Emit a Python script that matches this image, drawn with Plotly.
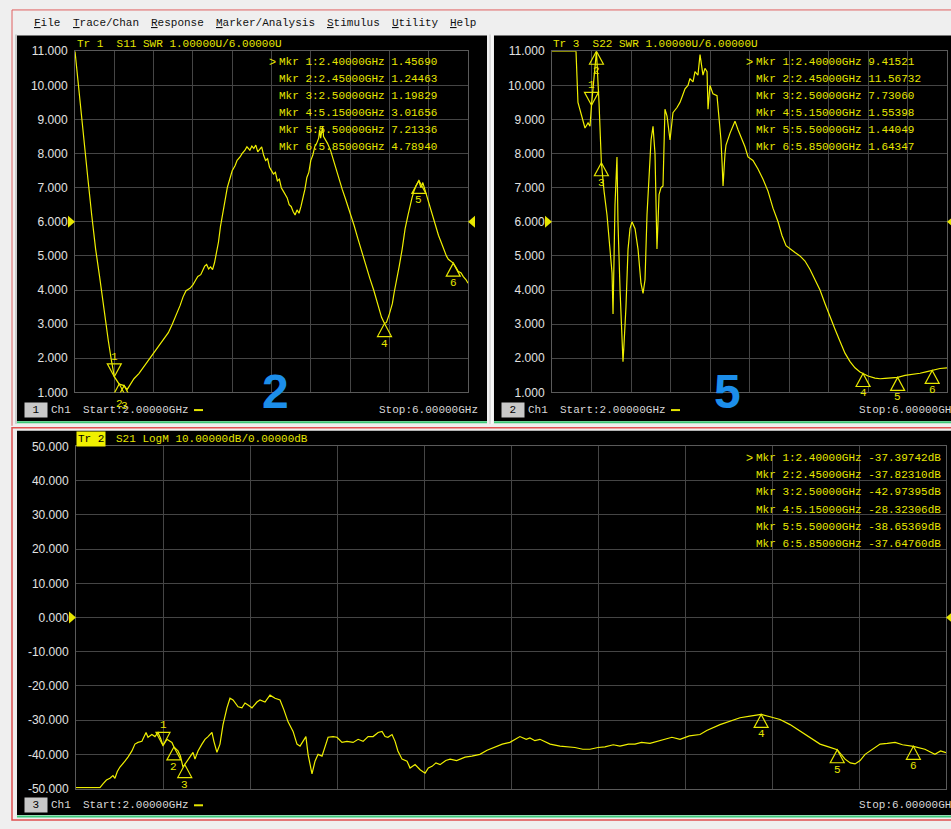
import plotly.graph_objects as go

W, H = 951, 829
MONO = "Liberation Mono, DejaVu Sans Mono, monospace"
SANS = "Liberation Sans, Arial, sans-serif"
YEL = "#E6E600"
TRACE_YEL = "#F0F000"
LABEL = "#E2E2E2"
GRID = "#454545"

# ---------------- data ----------------
s11_freq = [2.00, 2.02, 2.05, 2.09, 2.13, 2.17, 2.21, 2.25, 2.30, 2.34, 2.37, 2.40, 2.45, 2.50, 2.53, 2.56,
            2.60, 2.65, 2.70, 2.75, 2.80, 2.85, 2.90, 2.95, 2.99, 3.03, 3.07, 3.10, 3.13, 3.17, 3.20, 3.23,
            3.25, 3.28, 3.30, 3.32, 3.34, 3.36, 3.38, 3.40, 3.42, 3.44, 3.46, 3.48, 3.50, 3.53, 3.55, 3.58,
            3.60, 3.63, 3.65, 3.68, 3.70, 3.73, 3.75, 3.78, 3.80, 3.82, 3.84, 3.86, 3.88, 3.90, 3.92, 3.94,
            3.96, 3.98, 4.00, 4.02, 4.04, 4.06, 4.08, 4.10, 4.12, 4.14, 4.16, 4.18, 4.20, 4.22, 4.24, 4.26,
            4.28, 4.30, 4.32, 4.34, 4.36, 4.38, 4.40, 4.42, 4.44, 4.46, 4.48, 4.49, 4.50, 4.51, 4.52, 4.53,
            4.55, 4.57, 4.60, 4.62, 4.64, 4.66, 4.68, 4.70, 4.72, 4.75, 4.78, 4.80, 4.84, 4.88, 4.92, 4.96,
            5.00, 5.04, 5.08, 5.10, 5.12, 5.15, 5.17, 5.20, 5.23, 5.25, 5.27, 5.30, 5.33, 5.36, 5.39, 5.41,
            5.43, 5.45, 5.47, 5.50, 5.52, 5.54, 5.56, 5.58, 5.60, 5.62, 5.64, 5.66, 5.68, 5.70, 5.72, 5.75,
            5.78, 5.80, 5.82, 5.85, 5.88, 5.90, 5.93, 5.95, 5.98, 6.00]
s11_swr = [11.0, 10.4, 9.5, 8.4, 7.3, 6.2, 5.2, 4.4, 3.3, 2.5, 1.95, 1.46, 1.24, 1.20, 1.08, 1.22,
           1.40, 1.55, 1.75, 1.92, 2.15, 2.32, 2.55, 2.75, 3.00, 3.25, 3.55, 3.80, 3.98, 4.05, 4.15, 4.30,
           4.40, 4.45, 4.60, 4.70, 4.75, 4.62, 4.68, 4.60, 4.80, 5.10, 5.40, 5.85, 6.20, 6.70, 7.00, 7.30,
           7.50, 7.65, 7.80, 7.90, 8.00, 8.10, 8.20, 8.10, 8.22, 8.15, 8.25, 8.05, 8.12, 8.20, 7.95, 7.80,
           7.85, 7.60, 7.50, 7.40, 7.45, 7.20, 7.25, 7.00, 6.90, 6.80, 6.70, 6.50, 6.45, 6.30, 6.20, 6.35,
           6.25, 6.45, 6.70, 6.95, 7.30, 7.45, 7.80, 7.95, 8.20, 8.30, 8.45, 8.70, 8.45, 8.60, 8.80, 8.50,
           8.40, 8.30, 8.10, 7.90, 7.70, 7.55, 7.30, 7.10, 6.95, 6.70, 6.45, 6.30, 5.90, 5.50, 5.10, 4.70,
           4.35, 4.00, 3.60, 3.40, 3.20, 3.02, 3.05, 3.30, 3.60, 3.95, 4.30, 4.70, 5.20, 5.80, 6.20, 6.50,
           6.70, 6.90, 7.05, 7.21, 7.00, 7.15, 6.95, 6.80, 6.60, 6.40, 6.20, 6.00, 5.80, 5.60, 5.45, 5.20,
           5.00, 4.90, 4.85, 4.79, 4.65, 4.55, 4.50, 4.40, 4.30, 4.20]

s22_freq = [2.000, 2.243, 2.263, 2.304, 2.334, 2.365, 2.385, 2.400, 2.450, 2.476, 2.500, 2.527, 2.557,
            2.587, 2.608, 2.618, 2.628, 2.638, 2.658, 2.668, 2.689, 2.709, 2.719, 2.729, 2.749, 2.770,
            2.790, 2.810, 2.841, 2.871, 2.901, 2.922, 2.942, 2.962, 2.982, 3.003, 3.023, 3.043, 3.063,
            3.084, 3.104, 3.124, 3.144, 3.165, 3.195, 3.225, 3.266, 3.296, 3.316, 3.347, 3.377, 3.397,
            3.428, 3.448, 3.478, 3.499, 3.519, 3.529, 3.549, 3.570, 3.580, 3.600, 3.630, 3.671, 3.691,
            3.711, 3.722, 3.732, 3.752, 3.762, 3.803, 3.833, 3.853, 3.884, 3.924, 3.954, 3.985, 4.035,
            4.086, 4.137, 4.187, 4.238, 4.289, 4.329, 4.370, 4.410, 4.461, 4.511, 4.562, 4.613, 4.663,
            4.714, 4.765, 4.815, 4.866, 4.916, 4.967, 5.018, 5.068, 5.119, 5.150, 5.200, 5.271, 5.322,
            5.372, 5.423, 5.500, 5.575, 5.646, 5.727, 5.787, 5.850, 5.929, 6.000]
s22_swr = [11.0, 11.0, 9.50, 9.07, 8.75, 8.90, 8.80, 9.42, 11.0, 9.50, 7.73, 6.90, 6.20,
           5.20, 4.50, 3.30, 4.50, 6.50, 7.90, 6.00, 4.00, 2.50, 1.90, 2.40, 3.50, 5.20,
           5.80, 6.00, 5.80, 5.20, 4.20, 3.90, 4.30, 6.20, 7.50, 8.40, 8.80, 8.00, 5.20,
           6.80, 7.00, 7.05, 9.30, 9.10, 8.40, 9.20, 9.35, 9.50, 9.65, 9.90, 10.0, 10.2,
           10.1, 10.4, 10.3, 10.9, 10.5, 10.3, 10.5, 10.4, 9.30, 10.0, 9.75, 9.70, 9.05,
           8.40, 7.75, 7.05, 8.00, 8.25, 8.60, 8.80, 8.95, 8.70, 8.40, 8.20, 7.90, 7.80,
           7.55, 7.25, 6.90, 6.40, 6.00, 5.60, 5.30, 5.20, 5.10, 5.00, 4.85, 4.60, 4.30,
           4.00, 3.60, 3.20, 2.85, 2.50, 2.15, 1.90, 1.72, 1.60, 1.55, 1.48, 1.42, 1.40,
           1.41, 1.42, 1.44, 1.50, 1.52, 1.56, 1.60, 1.64, 1.70, 1.72]

s21_freq = [2.000, 2.110, 2.124, 2.140, 2.156, 2.170, 2.179, 2.190, 2.202, 2.215, 2.225, 2.239, 2.257,
            2.271, 2.285, 2.303, 2.322, 2.331, 2.349, 2.363, 2.377, 2.390, 2.400, 2.418, 2.441, 2.450,
            2.469, 2.480, 2.492, 2.500, 2.510, 2.524, 2.538, 2.547, 2.561, 2.579, 2.593, 2.607, 2.625,
            2.634, 2.648, 2.662, 2.676, 2.694, 2.708, 2.722, 2.745, 2.763, 2.777, 2.791, 2.809, 2.832,
            2.846, 2.869, 2.892, 2.915, 2.938, 2.956, 2.975, 2.998, 3.016, 3.030, 3.044, 3.057, 3.067,
            3.085, 3.099, 3.113, 3.131, 3.145, 3.159, 3.182, 3.200, 3.223, 3.246, 3.274, 3.297, 3.320,
            3.343, 3.366, 3.389, 3.407, 3.421, 3.434, 3.453, 3.467, 3.480, 3.499, 3.522, 3.536, 3.559,
            3.582, 3.605, 3.620, 3.637, 3.655, 3.674, 3.700, 3.720, 3.750, 3.789, 3.820, 3.857, 3.890,
            3.926, 3.960, 3.995, 4.020, 4.041, 4.070, 4.087, 4.110, 4.133, 4.180, 4.225, 4.294, 4.330,
            4.363, 4.400, 4.432, 4.470, 4.501, 4.540, 4.570, 4.600, 4.639, 4.680, 4.708, 4.740, 4.777,
            4.820, 4.869, 4.900, 4.961, 5.000, 5.053, 5.099, 5.150, 5.191, 5.237, 5.283, 5.320, 5.352,
            5.390, 5.421, 5.460, 5.500, 5.536, 5.560, 5.582, 5.605, 5.628, 5.660, 5.697, 5.730, 5.766,
            5.800, 5.850, 5.903, 5.930, 5.949, 5.975, 6.000]
s21_db = [-49.7, -49.7, -48.6, -47.5, -47.0, -46.2, -47.0, -45.0, -43.7, -42.8, -42.0, -40.8, -39.0,
          -37.0, -36.5, -36.2, -33.6, -35.0, -34.2, -34.8, -33.6, -35.5, -37.4, -35.6, -36.5, -37.8,
          -39.0, -40.5, -43.7, -42.97, -42.0, -40.8, -39.4, -41.4, -39.0, -37.0, -35.6, -34.8, -33.6,
          -36.2, -39.4, -37.0, -31.3, -26.4, -23.6, -24.1, -26.1, -26.4, -25.0, -25.6, -26.4, -24.7,
          -24.1, -24.7, -22.7, -23.6, -24.1, -27.0, -30.5, -33.3, -37.0, -37.6, -36.2, -34.8, -40.0,
          -45.7, -42.0, -40.0, -40.5, -38.0, -35.0, -34.8, -35.0, -36.5, -36.2, -36.5, -35.6, -36.2,
          -34.8, -34.8, -33.6, -33.3, -34.8, -35.0, -34.2, -36.2, -39.0, -41.4, -42.0, -44.0, -43.0,
          -44.5, -45.5, -44.0, -43.5, -42.5, -43.0, -41.8, -41.4, -41.8, -40.8, -40.5, -40.0, -38.8,
          -37.8, -37.0, -36.5, -35.5, -34.8, -35.6, -35.2, -36.0, -35.6, -37.0, -37.6, -38.0, -38.5,
          -38.5, -38.0, -37.8, -37.2, -37.6, -37.0, -37.0, -36.5, -36.8, -36.0, -35.6, -35.0, -35.6,
          -34.6, -34.2, -33.0, -31.3, -30.5, -29.3, -28.8, -28.3, -29.0, -29.8, -31.3, -32.8, -34.2,
          -35.6, -37.0, -37.8, -38.65, -41.4, -42.5, -42.8, -41.8, -40.0, -38.5, -37.0, -36.8, -36.5,
          -37.2, -37.65, -38.5, -39.5, -40.0, -39.0, -39.5]

mkr_freq = [2.40, 2.45, 2.50, 5.15, 5.50, 5.85]
s11_mkr = [1.45690, 1.24463, 1.19829, 3.01656, 7.21336, 4.78940]
s22_mkr = [9.41521, 11.56732, 7.73060, 1.55398, 1.44049, 1.64347]
s21_mkr = [-37.39742, -37.82310, -42.97395, -28.32306, -38.65369, -37.64760]

swr_ticks = [11, 10, 9, 8, 7, 6, 5, 4, 3, 2, 1]
db_ticks = [50, 40, 30, 20, 10, 0, -10, -20, -30, -40, -50]
freq_grid = [2.0, 2.4, 2.8, 3.2, 3.6, 4.0, 4.4, 4.8, 5.2, 5.6, 6.0]

menu_items = ["File", "Trace/Chan", "Response", "Marker/Analysis", "Stimulus", "Utility", "Help"]


# ---------------- helpers ----------------
def px(x):
    return x / W


def py(y):
    return 1 - y / H


fig = go.Figure()

panels = [
    dict(ax="x", ay="y", f=s11_freq, v=s11_swr, mk=s11_mkr, ymax=11, ref=6),
    dict(ax="x2", ay="y2", f=s22_freq, v=s22_swr, mk=s22_mkr, ymax=11, ref=6),
    dict(ax="x3", ay="y3", f=s21_freq, v=s21_db, mk=s21_mkr, ymax=50, ref=0),
]

for p in panels:
    fig.add_trace(go.Scatter(x=p["f"], y=p["v"], xaxis=p["ax"], yaxis=p["ay"], mode="lines",
                             line=dict(color=TRACE_YEL, width=1.2), hoverinfo="skip", showlegend=False))

shapes = []
annotations = []


def rect(x0, y0, x1, y1, fill=None, line=None, lw=1):
    shapes.append(dict(type="rect", xref="paper", yref="paper", x0=px(x0), x1=px(x1), y0=py(y1), y1=py(y0),
                       fillcolor=fill if fill else "rgba(0,0,0,0)",
                       line=dict(color=line if line else "rgba(0,0,0,0)", width=lw if line else 0),
                       layer="below"))


def hline(x0, x1, y, color, lw=1):
    shapes.append(dict(type="line", xref="paper", yref="paper", x0=px(x0), x1=px(x1), y0=py(y), y1=py(y),
                       line=dict(color=color, width=lw), layer="below"))


def vline(x, y0, y1, color, lw=1):
    shapes.append(dict(type="line", xref="paper", yref="paper", x0=px(x), x1=px(x), y0=py(y0), y1=py(y1),
                       line=dict(color=color, width=lw), layer="below"))


def text(x, y, s, color=YEL, size=11, family=MONO, xanchor="left", bg=None):
    d = dict(x=px(x), y=py(y), xref="paper", yref="paper", text=s, showarrow=False,
             xanchor=xanchor, yanchor="middle", font=dict(color=color, size=size, family=family),
             borderpad=0)
    if bg:
        d["bgcolor"] = bg
        d["borderpad"] = 1
    annotations.append(d)


# window chrome
hline(12, 951, 3, "#E06060", 1)
vline(12, 3, 426, "#E06060", 1)
vline(16, 28, 424, "#A8A8A8", 1)
rect(17, 29, 487, 421, fill="black")
rect(494, 29, 951, 421, fill="black")
hline(17, 487, 422.5, "#3CC878", 2)
hline(494, 951, 422.5, "#3CC878", 2)
vline(490, 28, 424, "#C8C8C8", 1)
vline(492, 28, 424, "#FFFFFF", 1)
rect(12, 428, 955, 827, line="#E05050", lw=1.5)
rect(17, 431, 951, 822, fill="black")
hline(17, 951, 823.5, "#3CC878", 2)

# menu
menu_x = [33, 72, 150, 215, 326, 391, 449]
for mx, item in zip(menu_x, menu_items):
    text(mx, 16, "<u>" + item[0] + "</u>" + item[1:], color="#111111", size=11)

# panel titles
text(76, 38, "Tr 1  S11 SWR 1.00000U/6.00000U")
text(552, 38, "Tr 3  S22 SWR 1.00000U/6.00000U")
text(76, 439.5, "Tr 2", color="black", bg="#F0F000")
text(115, 439.5, "S21 LogM 10.00000dB/0.00000dB")

# marker readouts
readouts = [
    (278, 55.5, s11_mkr, ""),
    (755, 55.5, s22_mkr, ""),
    (755, 459, s21_mkr, "dB"),
]
for (x0, y0, vals, unit) in readouts:
    text(x0 - 10, y0, ">", size=12, family=SANS)
    for i, (f, v) in enumerate(zip(mkr_freq, vals)):
        val = f"{v:.5f}{unit}" if unit else f"{v:.5f}"
        s = f"Mkr {i + 1}:{f:.5f}GHz {val}"
        text(x0, y0 + i * 17.4, s)

# footers
footers = [(24, 410, "1", 82), (501, 410, "2", 559), (24, 812, "3", 82)]
for bx, by, num, sx in footers:
    text(bx, by, " " + num + " ", color="black", bg="#C8C8C8", size=11)
    text(bx + 26, by, "Ch1", color="#D8D8D8")
    text(sx, by, "Start:2.00000GHz", color="#D8D8D8")
    hline(sx + 112, sx + 121, by, YEL, 2)
text(479, 410, "Stop:6.00000GHz", color="#D8D8D8", xanchor="right")
text(858, 410, "Stop:6.00000GHz", color="#D8D8D8")
text(858, 812, "Stop:6.00000GHz", color="#D8D8D8")

# big blue digits
text(275, 391, "<b>2</b>", color="#1C8EEA", size=48, family=SANS, xanchor="center")
text(727, 391, "<b>5</b>", color="#1C8EEA", size=48, family=SANS, xanchor="center")

# markers on traces
for p in panels:
    for i, (f, v) in enumerate(zip(mkr_freq, p["mk"])):
        yv = min(v, p["ymax"])
        if i == 0:
            path = "M0,0 L-7,13 L7,13 Z"
            ys = 20
        else:
            path = "M0,0 L-7,-13 L7,-13 Z"
            ys = -20
        shapes.append(dict(type="path", xref=p["ax"], yref=p["ay"], xsizemode="pixel", ysizemode="pixel",
                           xanchor=f, yanchor=yv, path=path, line=dict(color=YEL, width=1.2),
                           fillcolor="rgba(0,0,0,0)", layer="above"))
        annotations.append(dict(x=f, y=yv, xref=p["ax"], yref=p["ay"], text=str(i + 1), showarrow=False,
                                yshift=ys, font=dict(color=YEL, size=11, family=MONO),
                                xanchor="center", yanchor="middle"))

# reference level arrows
ref_edges = [("y", 75, 468, 6), ("y2", 552, 947, 6), ("y3", 76, 946, 0)]
for ay, xl, xr, lvl in ref_edges:
    shapes.append(dict(type="path", xref="paper", yref=ay, xsizemode="pixel", ysizemode="pixel",
                       xanchor=px(xl), yanchor=lvl, path="M0,0 L-7,6 L-7,-6 Z",
                       fillcolor=YEL, line=dict(color=YEL, width=0), layer="above"))
    shapes.append(dict(type="path", xref="paper", yref=ay, xsizemode="pixel", ysizemode="pixel",
                       xanchor=px(xr), yanchor=lvl, path="M0,0 L7,6 L7,-6 Z",
                       fillcolor=YEL, line=dict(color=YEL, width=0), layer="above"))


def xax(d0, d1, anchor):
    return dict(domain=[px(d0), px(d1)], range=[2, 6], anchor=anchor, tickvals=freq_grid,
                showticklabels=False, showgrid=True, gridcolor=GRID, gridwidth=1, zeroline=False,
                showline=True, mirror=True, linecolor="#5A5A5A", linewidth=1, ticks="", fixedrange=True)


def yax(d0, d1, anchor, rng, ticks):
    return dict(domain=[py(d1), py(d0)], range=rng, anchor=anchor, tickvals=ticks,
                ticktext=[f"{t:.3f}" for t in ticks], showgrid=True, gridcolor=GRID, gridwidth=1,
                zeroline=False, showline=True, mirror=True, linecolor="#5A5A5A", linewidth=1,
                ticks="outside", ticklen=4, tickcolor="rgba(0,0,0,0)",
                tickfont=dict(color=LABEL, size=12, family=SANS), fixedrange=True)


fig.update_layout(
    width=W, height=H, margin=dict(l=0, r=0, t=0, b=0),
    paper_bgcolor="#EFEFEF", plot_bgcolor="black", showlegend=False,
    xaxis=xax(75, 468, "y"), yaxis=yax(45, 392, "x", [1, 11], swr_ticks),
    xaxis2=xax(552, 947, "y2"), yaxis2=yax(45, 392, "x2", [1, 11], swr_ticks),
    xaxis3=xax(76, 946, "y3"), yaxis3=yax(447, 795, "x3", [-50, 50], db_ticks),
    shapes=shapes, annotations=annotations,
)

fig.write_html(
    "out.html",
    config={"displayModeBar": False},
    post_script=(
        "document.documentElement.style.margin='0';document.body.style.margin='0';"
        "document.body.style.padding='0';document.documentElement.style.overflow='hidden';"
        "document.body.style.overflow='hidden';"
    ),
)
